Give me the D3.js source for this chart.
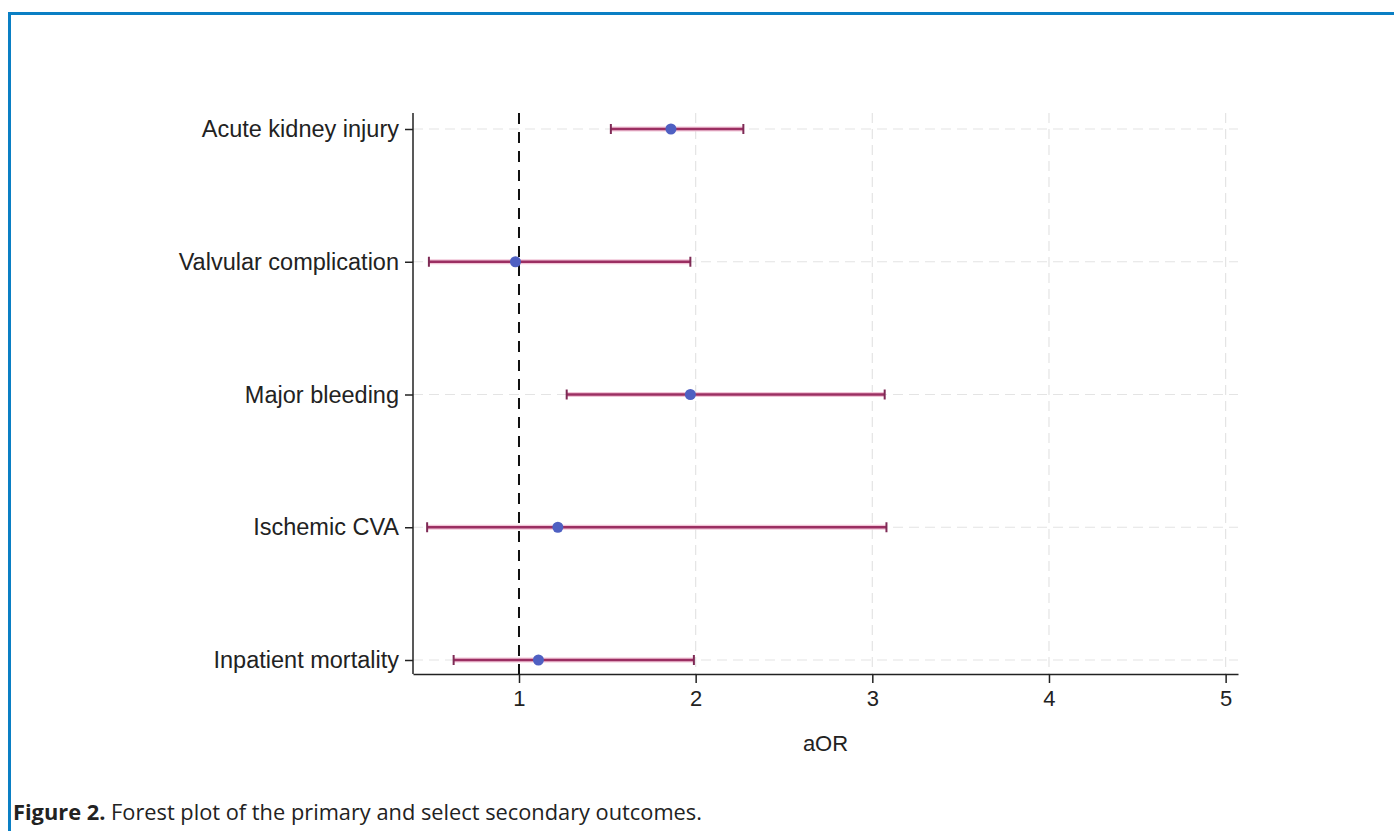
<!DOCTYPE html>
<html>
<head>
<meta charset="utf-8">
<script src="https://cdn.jsdelivr.net/npm/d3@7"></script>
<style>
  body { margin: 0; background: #fff; }
  svg { display: block; }
</style>
</head>
<body>
<svg id="chart" width="1394" height="831"></svg>
<script>
var outcomes = ['Acute kidney injury', 'Valvular complication', 'Major bleeding', 'Ischemic CVA', 'Inpatient mortality'];
var estimates = [1.86, 0.98, 1.97, 1.22, 1.11];
var lowerCI = [1.52, 0.49, 1.27, 0.48, 0.63];
var upperCI = [2.27, 1.97, 3.07, 3.08, 1.99];
var xTicks = [1, 2, 3, 4, 5];

var svg = d3.select('#chart');

// page frame
svg.append('rect').attr('x', 8).attr('y', 12).attr('width', 1394).attr('height', 3).attr('fill', '#0a7fc4');
svg.append('rect').attr('x', 8).attr('y', 12).attr('width', 3).attr('height', 831).attr('fill', '#0a7fc4');

var plotLeft = 413, plotRight = 1238, plotTop = 113, plotBottom = 674;
var labelFont = 'Liberation Sans, Arial, sans-serif';

var x = d3.scaleLinear().domain([0.4, 5.07]).range([plotLeft, plotRight]);
var y = d3.scalePoint().domain(outcomes).range([129, 660]);

var data = outcomes.map(function(d, i) {
    return {name: d, est: estimates[i], lo: lowerCI[i], hi: upperCI[i]};
});

// grid
svg.append('g').selectAll('line')
    .data(outcomes).join('line')
    .attr('x1', plotLeft).attr('x2', plotRight)
    .attr('y1', function(d) { return y(d); }).attr('y2', function(d) { return y(d); })
    .attr('stroke', '#e4e4e4').attr('stroke-width', 1.2).attr('stroke-dasharray', '10,6');

svg.append('g').selectAll('line')
    .data(xTicks.slice(1)).join('line')
    .attr('x1', function(d) { return x(d); }).attr('x2', function(d) { return x(d); })
    .attr('y1', plotTop).attr('y2', plotBottom)
    .attr('stroke', '#e4e4e4').attr('stroke-width', 1.2).attr('stroke-dasharray', '10,6');

// axes
var xAxis = svg.append('g')
    .attr('transform', 'translate(0,' + plotBottom + ')')
    .call(d3.axisBottom(x).tickValues(xTicks).tickFormat(d3.format('d'))
        .tickSizeInner(9).tickSizeOuter(0).tickPadding(7));
xAxis.select('.domain').attr('stroke', '#222').attr('stroke-width', 1.5);
xAxis.selectAll('.tick line').attr('stroke', '#222').attr('stroke-width', 1.5);
xAxis.selectAll('text').attr('font-family', labelFont).attr('font-size', 22).attr('fill', '#222');

var yAxis = svg.append('g')
    .attr('transform', 'translate(' + plotLeft + ',0)')
    .call(d3.axisLeft(y).tickSizeInner(8).tickSizeOuter(0).tickPadding(6));
yAxis.select('.domain').attr('d', 'M0,' + plotTop + 'V' + plotBottom).attr('stroke', '#222').attr('stroke-width', 1.5);
yAxis.selectAll('.tick line').attr('stroke', '#222').attr('stroke-width', 1.5);
yAxis.selectAll('text').attr('font-family', labelFont).attr('font-size', 23.5).attr('fill', '#222');

svg.append('text')
    .attr('x', (plotLeft + plotRight) / 2).attr('y', 751)
    .attr('text-anchor', 'middle')
    .attr('font-family', labelFont).attr('font-size', 22).attr('fill', '#222')
    .text('aOR');

// reference line at 1
svg.append('line')
    .attr('x1', x(1)).attr('x2', x(1))
    .attr('y1', plotTop).attr('y2', plotBottom)
    .attr('stroke', '#111').attr('stroke-width', 2).attr('stroke-dasharray', '11,8');

// CIs
var ci = svg.append('g').selectAll('g').data(data).join('g');
ci.append('line')
    .attr('x1', function(d) { return x(d.lo); }).attr('x2', function(d) { return x(d.hi); })
    .attr('y1', function(d) { return y(d.name); }).attr('y2', function(d) { return y(d.name); })
    .attr('stroke', '#f2c6d8').attr('stroke-width', 5);
ci.append('line')
    .attr('x1', function(d) { return x(d.lo); }).attr('x2', function(d) { return x(d.hi); })
    .attr('y1', function(d) { return y(d.name); }).attr('y2', function(d) { return y(d.name); })
    .attr('stroke', '#9b2f62').attr('stroke-width', 2.4);
ci.selectAll('line.cap')
    .data(function(d) { return [{v: d.lo, n: d.name}, {v: d.hi, n: d.name}]; })
    .join('line')
    .attr('class', 'cap')
    .attr('x1', function(d) { return x(d.v); }).attr('x2', function(d) { return x(d.v); })
    .attr('y1', function(d) { return y(d.n) - 5; }).attr('y2', function(d) { return y(d.n) + 5; })
    .attr('stroke', '#7e2a55').attr('stroke-width', 2);

svg.append('g').selectAll('circle')
    .data(data).join('circle')
    .attr('cx', function(d) { return x(d.est); })
    .attr('cy', function(d) { return y(d.name); })
    .attr('r', 5.5)
    .attr('fill', '#4f60c2');

// caption
var cap = svg.append('text')
    .attr('x', 13).attr('y', 820)
    .attr('font-family', 'Open Sans, sans-serif').attr('font-size', 21.8).attr('fill', '#222');
cap.append('tspan').attr('font-weight', 'bold').text('Figure 2.');
cap.append('tspan').text(' Forest plot of the primary and select secondary outcomes.');
</script>
</body>
</html>
